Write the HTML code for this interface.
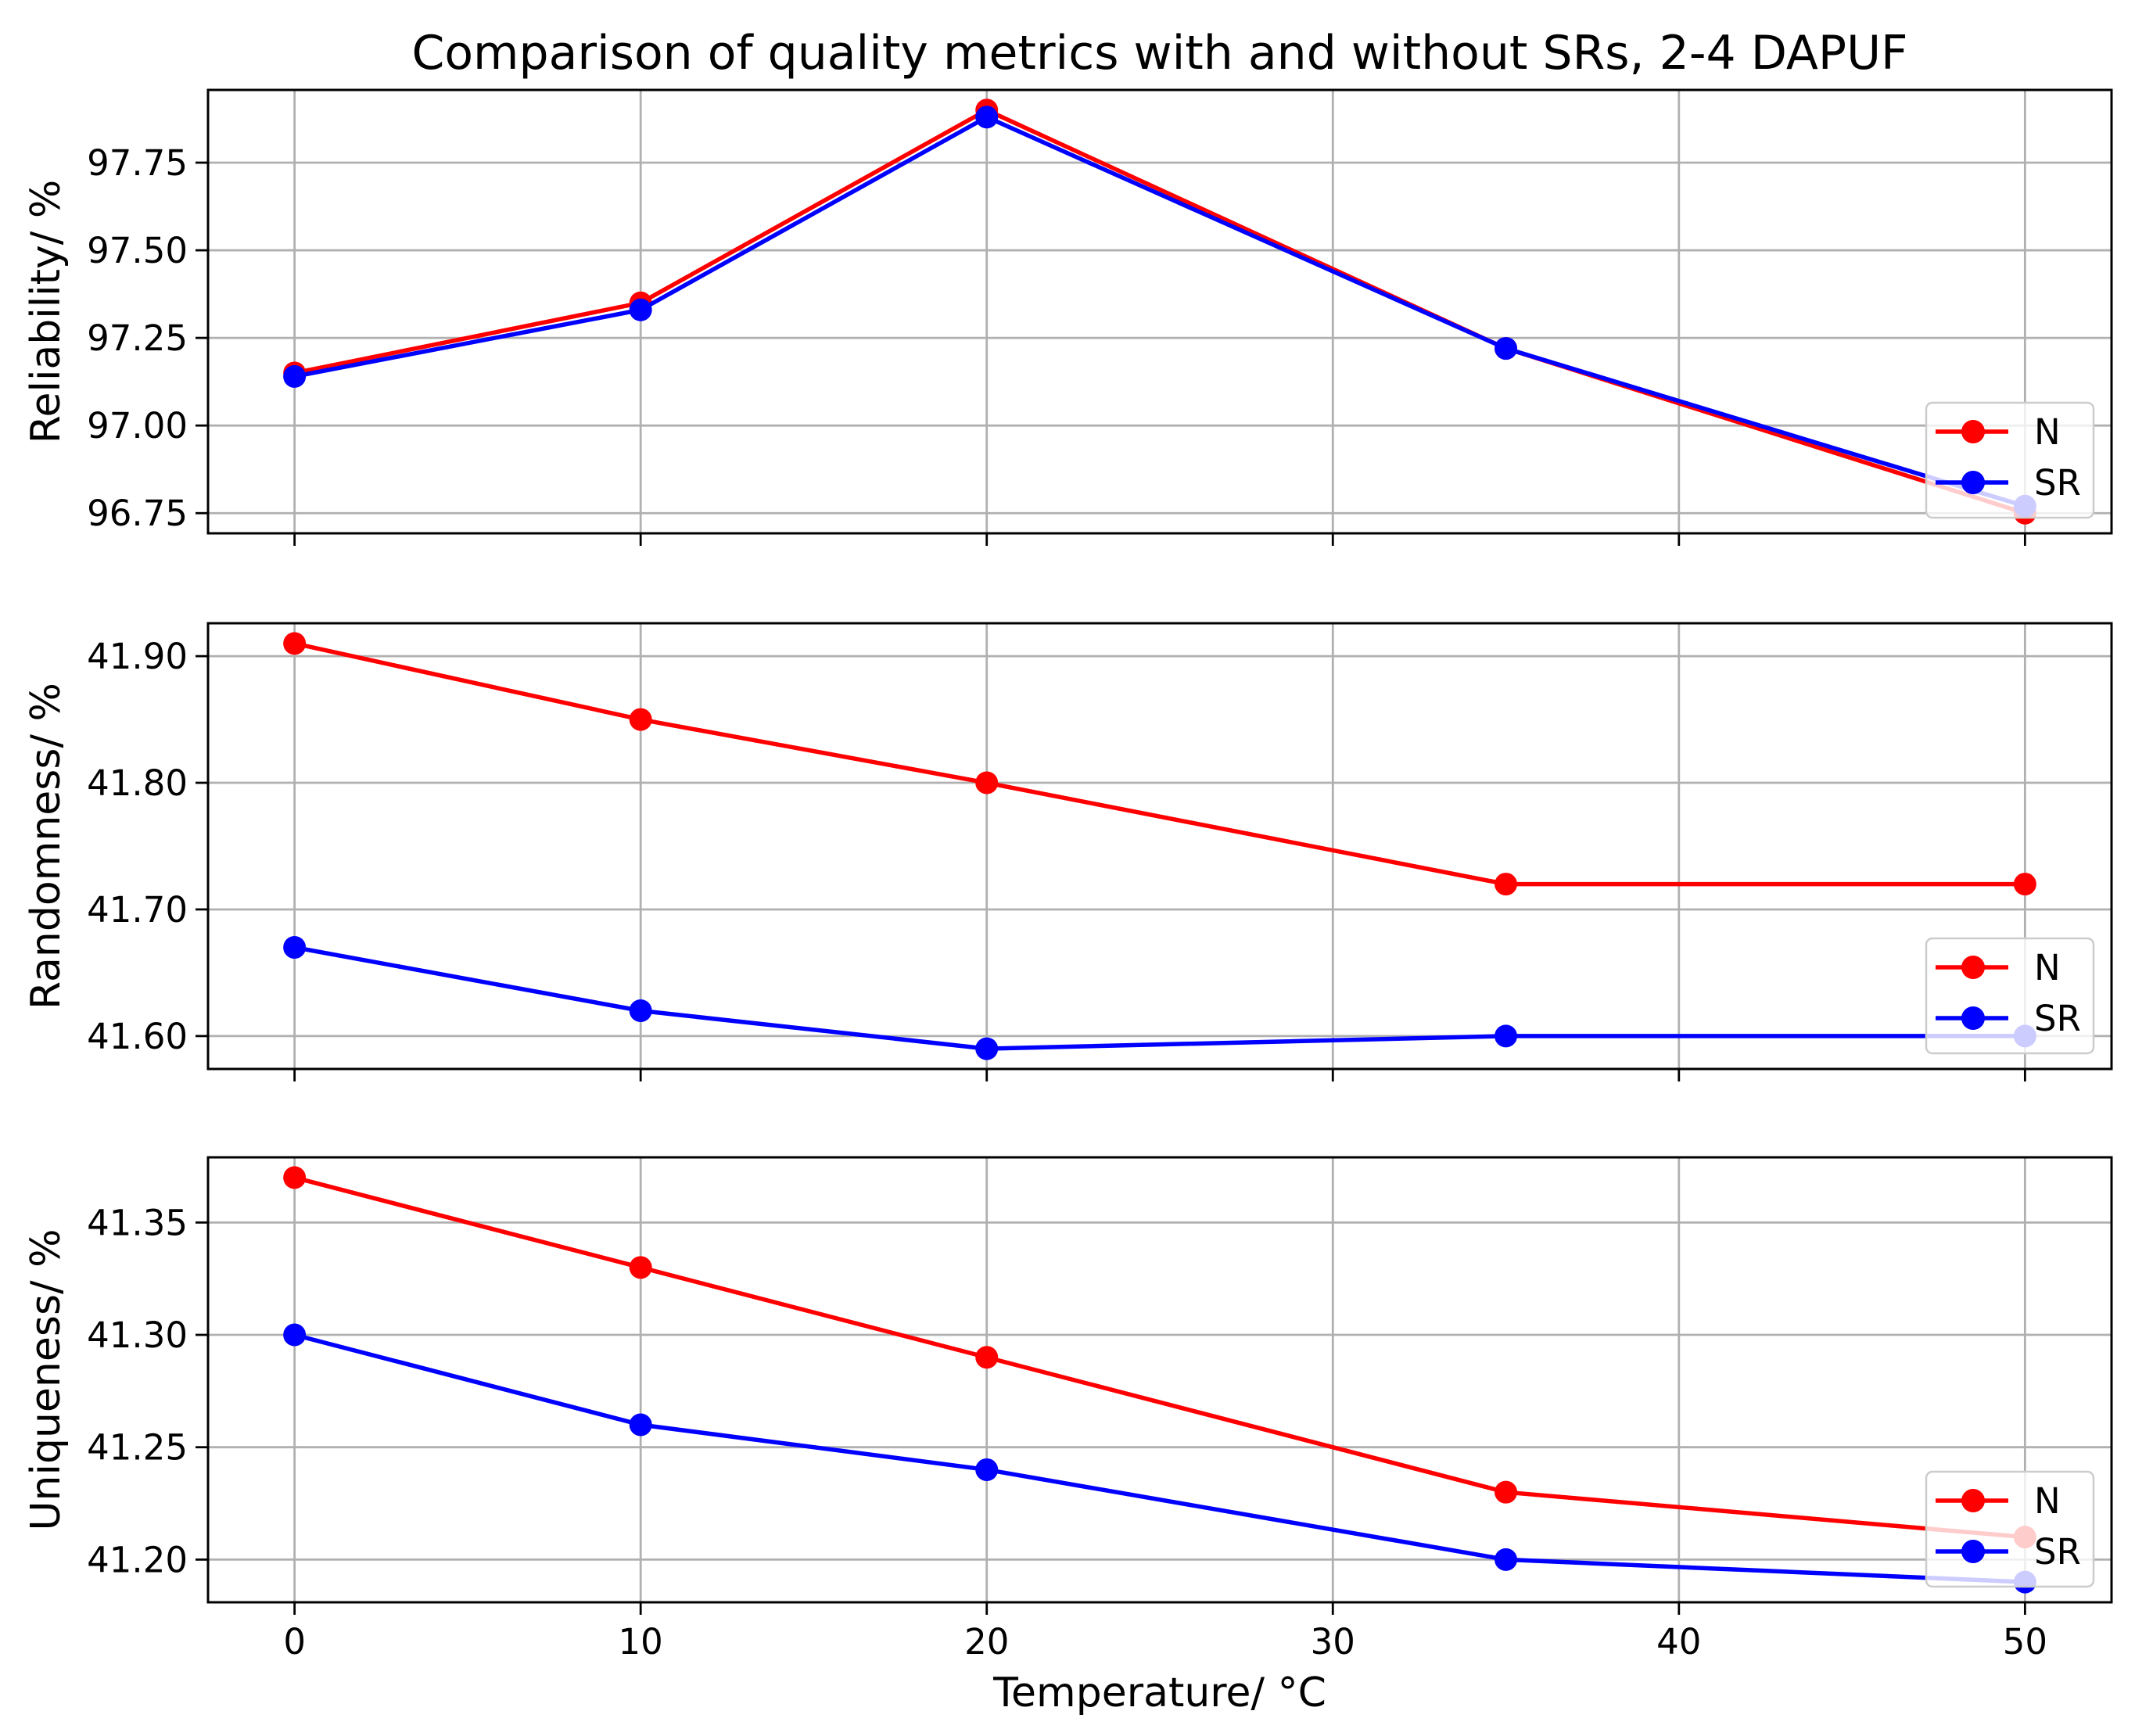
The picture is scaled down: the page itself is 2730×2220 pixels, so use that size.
<!DOCTYPE html>
<html><head><meta charset="utf-8"><style>
html,body{margin:0;padding:0;background:#fff;}
svg{display:block;font-family:"DejaVu Sans","Liberation Sans",sans-serif;}
</style></head><body>
<svg id="chart" width="2730" height="2220" viewBox="0 0 2730 2220" xmlns="http://www.w3.org/2000/svg">
<text x="1483" y="88" font-size="60" text-anchor="middle">Comparison of quality metrics with and without SRs, 2-4 DAPUF</text>
<text x="1483" y="2182" font-size="52" text-anchor="middle">Temperature/ °C</text>
</svg>
<script>
const temps = [0, 10, 20, 35, 50];
const xTicks = [0, 10, 20, 30, 40, 50];
const relN = [97.15, 97.35, 97.90, 97.22, 96.75];
const relSR = [97.14, 97.33, 97.88, 97.22, 96.77];
const randN = [41.91, 41.85, 41.80, 41.72, 41.72];
const randSR = [41.67, 41.62, 41.59, 41.60, 41.60];
const uniqN = [41.37, 41.33, 41.29, 41.23, 41.21];
const uniqSR = [41.30, 41.26, 41.24, 41.20, 41.19];
const relTicks = [96.75, 97.00, 97.25, 97.50, 97.75];
const randTicks = [41.60, 41.70, 41.80, 41.90];
const uniqTicks = [41.20, 41.25, 41.30, 41.35];
const seriesLabels = ['N', 'SR'];

const NS = 'http://www.w3.org/2000/svg';
const svg = document.getElementById('chart');
const L = 266, R = 2700;
const xMin = -2.5, xMax = 52.5;
function xs(v){ return L + (v - xMin) / (xMax - xMin) * (R - L); }
function mk(tag, attrs, parent){ const e = document.createElementNS(NS, tag); for (const k in attrs) e.setAttribute(k, attrs[k]); (parent||svg).appendChild(e); return e; }

const panels = [
  {name:'reliability', label:'Reliability/ %', top:115, bot:682, N:relN, SR:relSR, ticks:relTicks, dec:2},
  {name:'randomness', label:'Randomness/ %', top:797, bot:1367, N:randN, SR:randSR, ticks:randTicks, dec:2},
  {name:'uniqueness', label:'Uniqueness/ %', top:1480, bot:2049, N:uniqN, SR:uniqSR, ticks:uniqTicks, dec:2}
];

panels.forEach((p, pi) => {
  const all = p.N.concat(p.SR);
  const dmin = Math.min(...all), dmax = Math.max(...all);
  const m = (dmax - dmin) * 0.05;
  const yMin = dmin - m, yMax = dmax + m;
  const ys = v => p.bot - (v - yMin) / (yMax - yMin) * (p.bot - p.top);
  const g = mk('g', {});
  
  
  xTicks.forEach(t => {
    const l = mk('line', {x1:xs(t), x2:xs(t), y1:p.top, y2:p.bot, stroke:'#b0b0b0', 'stroke-width':2.8}, g);
    
    
    const tk = mk('line', {x1:xs(t), x2:xs(t), y1:p.bot, y2:p.bot+16, stroke:'#000', 'stroke-width':2.8}, g);
    
    
    if (pi === 2) {
      const tx = mk('text', {x:xs(t), y:p.bot+66, 'font-size':45, 'text-anchor':'middle'}, g);
      tx.textContent = t;
      
      
    }
  });
  p.ticks.forEach(t => {
    const y = ys(t);
    const l = mk('line', {x1:L, x2:R, y1:y, y2:y, stroke:'#b0b0b0', 'stroke-width':2.8}, g);
    
    
    const tk = mk('line', {x1:L-16, x2:L, y1:y, y2:y, stroke:'#000', 'stroke-width':2.8}, g);
    
    
    const tx = mk('text', {x:L-26, y:y+16, 'font-size':45, 'text-anchor':'end'}, g);
    tx.textContent = t.toFixed(p.dec);
    
    
  });
  [[p.N,'#ff0000','n'],[p.SR,'#0000ff','sr']].forEach(([vals,col,nm]) => {
    const pts = vals.map((v,i) => xs(temps[i]) + ',' + ys(v)).join(' ');
    const pl = mk('polyline', {points:pts, fill:'none', stroke:col, 'stroke-width':5.5, 'stroke-linejoin':'round'}, g);
    
    
    vals.forEach((v,i) => {
      const c = mk('circle', {cx:xs(temps[i]), cy:ys(v), r:14.5, fill:col}, g);
      
      
    });
  });
  const fr = mk('rect', {x:L, y:p.top, width:R-L, height:p.bot-p.top, fill:'none', stroke:'#000', 'stroke-width':3}, g);
  
  
  const cy = (p.top + p.bot) / 2;
  const yl = mk('text', {x:0, y:0, 'font-size':52, 'text-anchor':'middle', transform:'translate(76,' + cy + ') rotate(-90)'}, g);
  yl.textContent = p.label;
  
  
  const lg = mk('g', {}, g);
  
  
  const bx = 2463, by = p.bot - 167;
  mk('rect', {x:bx, y:by, width:214, height:147, rx:8, fill:'#fff', 'fill-opacity':0.8, stroke:'#cccccc', 'stroke-width':2.5}, lg);
  [['#ff0000',0],['#0000ff',1]].forEach(([col,i]) => {
    const ry = by + 37 + i*65;
    const e = mk('g', {}, lg);
    
    
    mk('line', {x1:bx+12, x2:bx+105, y1:ry, y2:ry, stroke:col, 'stroke-width':5.5}, e);
    mk('circle', {cx:bx+60, cy:ry, r:15, fill:col}, e);
    const t = mk('text', {x:bx+138, y:ry+16, 'font-size':45}, e);
    t.textContent = seriesLabels[i];
  });
});
</script>
</body></html>
